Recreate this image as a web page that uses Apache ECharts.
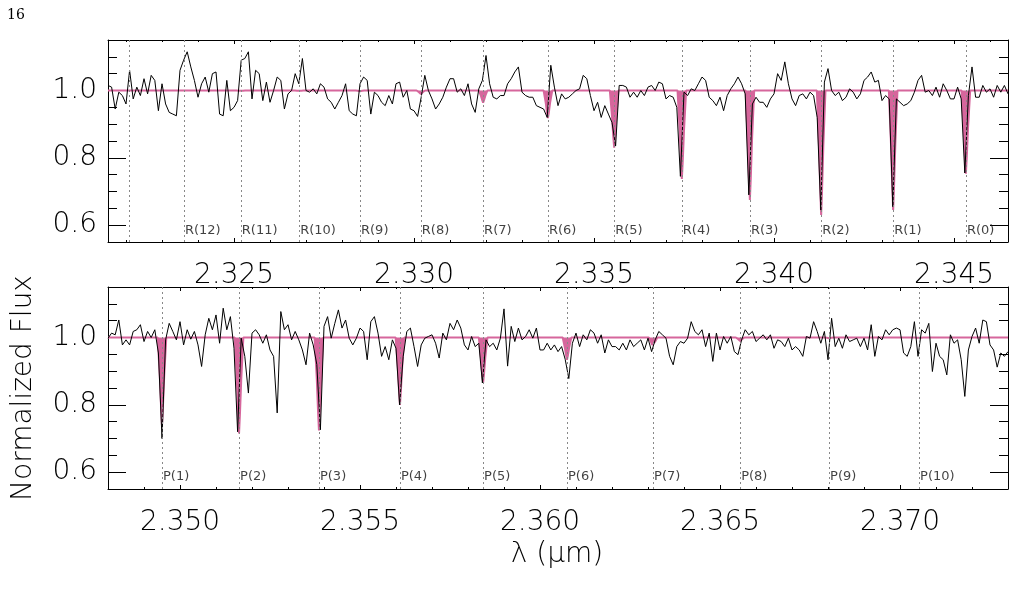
<!DOCTYPE html>
<html>
<head>
<meta charset="utf-8">
<script src="https://cdn.jsdelivr.net/npm/echarts@6/dist/echarts.min.js"></script>
<style>
  html, body { margin: 0; padding: 0; background: #fff; }
  #chart { width: 1016px; height: 604px; }
</style>
</head>
<body>
<div id="chart"></div>
<script>
// sampling of the spectrum (micron)
const topStart = 2.3215;
const botStart = 2.348;
const lamStep = 0.0001;

// observed normalized flux, upper panel (R branch)
const topFlux = [
  1.015, 1.01, 0.945, 0.995, 0.985, 0.96, 1.06, 0.975, 1.01, 0.985,
  1.035, 0.99, 1.045, 1.03, 0.94, 1.02, 0.96, 0.935, 0.93, 0.925,
  1.06, 1.09, 1.115, 1.07, 1.03, 0.98, 1.02, 1.04, 0.995, 1.05,
  1.055, 0.93, 0.925, 1.03, 0.94, 0.95, 0.97, 1.09, 1.095, 1.115,
  0.975, 1.06, 1.05, 0.97, 1.025, 0.965, 1.0, 1.04, 1.03, 0.945,
  0.99, 1.0, 1.05, 1.02, 1.095, 1.0, 0.995, 1.005, 0.99, 1.02,
  1.01, 0.975, 0.965, 0.945, 0.965, 0.985, 1.02, 0.94, 0.93, 0.925,
  1.02, 1.04, 1.03, 0.93, 0.995, 0.985, 0.965, 0.955, 0.985, 0.96,
  1.02, 1.025, 0.98, 1.0, 0.945, 0.94, 0.923, 0.98, 1.045, 1.0,
  0.975, 0.945, 0.96, 0.98, 1.01, 1.035, 1.035, 0.995, 1.005, 0.985,
  1.02, 0.96, 0.935, 1.005, 1.03, 1.104, 1.02, 0.98, 0.975, 0.985,
  0.985, 1.02, 1.035, 1.055, 1.07, 0.995, 0.985, 0.98, 0.98, 0.955,
  0.95, 0.945, 0.92, 1.075, 1.01, 0.955, 0.99, 0.975, 0.98, 0.99,
  1.0, 1.005, 1.045, 1.035, 0.985, 0.94, 0.965, 0.92, 0.955, 0.93,
  0.905, 0.835, 1.015, 1.015, 1.01, 0.98, 0.995, 0.98, 1.0, 0.985,
  1.01, 1.015, 1.0, 1.025, 1.02, 0.975, 0.985, 0.98, 0.95, 0.745,
  0.995, 0.985, 1.005, 1.0, 1.02, 1.04, 1.03, 0.98, 0.97, 0.955,
  0.98, 0.94, 0.985, 1.005, 1.02, 1.04, 1.02, 0.99, 0.69, 0.96,
  0.98, 0.965, 0.965, 0.95, 0.975, 0.99, 1.05, 1.03, 1.085, 1.02,
  0.975, 0.955, 0.985, 0.99, 0.975, 0.995, 0.985, 0.92, 0.645, 1.025,
  1.065, 1.0, 0.985, 0.995, 0.97, 0.98, 1.005, 0.995, 0.975, 0.99,
  1.03, 1.04, 1.055, 1.025, 1.03, 0.97, 0.985, 0.975, 0.655, 0.975,
  0.965, 0.955, 0.96, 0.97, 0.995, 1.03, 1.045, 0.995, 1.0, 0.985,
  1.01, 0.98, 1.02, 1.0, 0.975, 0.975, 1.01, 0.975, 0.755, 0.985,
  1.07, 0.98, 0.98, 1.015, 0.995, 1.005, 0.98, 1.015, 0.995, 1.015, 0.99
];

// observed normalized flux, lower panel (P branch)
const botFlux = [
  0.998, 1.013, 1.008, 1.052, 0.978, 0.993, 0.978, 1.018, 1.023, 1.038,
  0.988, 1.018, 1.0, 1.023, 0.954, 0.70, 0.993, 1.042, 1.018, 0.993,
  1.047, 0.978, 1.023, 0.995, 1.018, 0.978, 0.914, 1.008, 1.057, 1.023,
  1.067, 0.983, 1.087, 1.023, 1.062, 0.968, 0.72, 0.998, 0.944, 0.835,
  1.013, 1.023, 1.008, 0.983, 1.008, 0.963, 0.944, 0.776, 1.077, 1.023,
  1.038, 0.993, 1.018, 0.993, 0.963, 0.919, 1.013, 0.978, 0.92, 0.726,
  1.033, 1.062, 0.998, 1.042, 1.082, 1.028, 1.052, 0.998, 0.978, 0.998,
  1.028, 1.018, 0.934, 1.047, 1.062, 1.013, 0.944, 0.973, 0.934, 0.993,
  0.968, 0.80, 0.944, 1.018, 1.028, 0.973, 0.914, 0.978, 0.998, 1.003,
  1.008, 0.983, 0.939, 1.013, 0.993, 1.042, 1.023, 1.052, 1.028, 0.978,
  0.963, 1.003, 0.973, 0.983, 0.865, 0.993, 0.973, 0.983, 0.963, 0.998,
  1.085, 0.915, 1.033, 0.988, 1.028, 0.993, 1.003, 1.023, 0.998, 1.028,
  0.963, 0.963, 0.983, 0.963, 0.978, 0.958, 0.973, 0.935, 0.878, 0.983,
  1.013, 0.973, 1.008, 0.993, 1.023, 1.013, 0.983, 1.008, 0.954, 0.993,
  0.973, 0.973, 0.963, 0.983, 0.963, 0.993, 0.973, 0.983, 0.993, 0.963,
  0.998, 0.958, 0.993, 1.018, 1.008, 0.998, 0.944, 0.919, 0.973, 0.988,
  0.983, 0.998, 1.047, 1.018, 1.008, 1.023, 0.973, 1.013, 0.929, 1.013,
  0.963, 1.003, 0.983, 1.003, 0.958, 0.949, 0.993, 1.023, 1.008, 1.018,
  0.988, 0.998, 1.008, 0.993, 1.008, 0.968, 0.993, 0.988, 0.973, 0.998,
  0.963, 0.973, 0.963, 0.944, 1.003, 0.998, 1.047, 1.018, 0.983, 1.018,
  0.934, 1.057, 0.973, 0.998, 0.968, 1.008, 0.988, 0.993, 0.998, 0.973,
  0.998, 0.963, 1.038, 0.944, 1.003, 0.993, 1.023, 1.008, 1.023, 1.028,
  1.023, 0.954, 0.944, 0.973, 1.047, 0.944, 1.023, 1.013, 1.042, 0.899,
  0.983, 0.944, 0.934, 0.889, 1.008, 0.983, 0.993, 0.934, 0.825, 0.963,
  1.003, 1.028, 0.983, 1.052, 1.047, 0.978, 0.963, 0.912, 0.954, 0.944, 0.958
];

// line identifications: wavelength, label, model depth
const rLam = [2.32208, 2.32361, 2.32519, 2.32681, 2.32850, 2.33019, 2.33192,
  2.33372, 2.33556, 2.33744, 2.33933, 2.34131, 2.34331, 2.34533];
const rNames = ['', 'R(12)', 'R(11)', 'R(10)', 'R(9)', 'R(8)', 'R(7)',
  'R(6)', 'R(5)', 'R(4)', 'R(3)', 'R(2)', 'R(1)', 'R(0)'];
const rDepth = [1.0, 1.0, 0.999, 0.999, 0.998, 0.99, 0.964,
  0.918, 0.83, 0.737, 0.675, 0.63, 0.645, 0.753];

const pLam = [2.34950, 2.35164, 2.35386, 2.35611, 2.35842, 2.36075, 2.36314,
  2.36556, 2.36803, 2.37053];
const pNames = ['P(1)', 'P(2)', 'P(3)', 'P(4)', 'P(5)', 'P(6)', 'P(7)',
  'P(8)', 'P(9)', 'P(10)'];
const pDepth = [0.74, 0.715, 0.724, 0.80, 0.865, 0.934, 0.973, 0.99, 0.998, 0.999];

// model line profile (offset in micron, fraction of depth)
const profDx = [-0.00012, -0.00006, -0.000025, 0, 0.000025, 0.00006, 0.00012];
const profFrac = [0, 0.45, 0.8, 1, 0.8, 0.45, 0];

// axis ticks
const topRange = [2.3215, 2.3465];
const botRange = [2.348, 2.373];
const topMajor = [2.325, 2.330, 2.335, 2.340, 2.345];
const topMinor = [2.322, 2.323, 2.324, 2.326, 2.327, 2.328, 2.329, 2.331, 2.332, 2.333,
  2.334, 2.336, 2.337, 2.338, 2.339, 2.341, 2.342, 2.343, 2.344, 2.346];
const botMajor = [2.350, 2.355, 2.360, 2.365, 2.370];
const botMinor = [2.348, 2.349, 2.351, 2.352, 2.353, 2.354, 2.356, 2.357, 2.358, 2.359,
  2.361, 2.362, 2.363, 2.364, 2.366, 2.367, 2.368, 2.369, 2.371, 2.372, 2.373];
const yMajor = [0.6, 0.8, 1.0];
const yMinor = [0.55, 0.65, 0.7, 0.75, 0.85, 0.9, 0.95, 1.05, 1.1, 1.15];

const PINK = '#d6669c';
const FONT = 'DejaVu Sans';

const chart = echarts.init(document.getElementById('chart'), null, { renderer: 'canvas' });

function spectrum(start, flux) {
  return flux.map((f, i) => [start + i * lamStep, f]);
}

function model(range, lams, depths) {
  const pts = [[range[0], 1]];
  lams.forEach((c, k) => {
    profDx.forEach((dx, j) => {
      pts.push([c + dx, 1 - (1 - depths[k]) * profFrac[j]]);
    });
  });
  pts.push([range[1], 1]);
  return pts;
}

function xAxes(gridIndex, range, major, minor) {
  const base = {
    gridIndex, type: 'value', min: range[0], max: range[1],
    splitLine: { show: false },
    axisLine: { show: false, onZero: false }
  };
  return [
    Object.assign({}, base, {
      position: 'bottom',
      axisLine: { show: true, onZero: false, lineStyle: { color: '#000', width: 1 } },
      axisTick: { inside: true, length: 4, customValues: major, lineStyle: { color: '#000' } },
      axisLabel: {
        customValues: major, margin: 20, color: '#000',
        fontFamily: FONT, fontWeight: 200, fontSize: 28,
        formatter: v => v.toFixed(3)
      }
    }),
    Object.assign({}, base, {
      position: 'bottom',
      axisTick: { inside: true, length: 2, customValues: minor, lineStyle: { color: '#000' } },
      axisLabel: { show: false }
    }),
    Object.assign({}, base, {
      position: 'top',
      axisLine: { show: true, onZero: false, lineStyle: { color: '#000', width: 1 } },
      axisTick: { inside: true, length: 4, customValues: major, lineStyle: { color: '#000' } },
      axisLabel: { show: false }
    }),
    Object.assign({}, base, {
      position: 'top',
      axisTick: { inside: true, length: 2, customValues: minor, lineStyle: { color: '#000' } },
      axisLabel: { show: false }
    })
  ];
}

function yAxes(gridIndex) {
  const base = {
    gridIndex, type: 'value', min: 0.55, max: 1.15,
    splitLine: { show: false },
    axisLine: { show: false, onZero: false }
  };
  return [
    Object.assign({}, base, {
      position: 'left',
      axisLine: { show: true, onZero: false, lineStyle: { color: '#000', width: 1 } },
      axisTick: { inside: true, length: 18, customValues: yMajor, lineStyle: { color: '#000' } },
      axisLabel: {
        customValues: yMajor, margin: 11, color: '#000',
        fontFamily: FONT, fontWeight: 200, fontSize: 28,
        formatter: v => v.toFixed(1)
      }
    }),
    Object.assign({}, base, {
      position: 'left',
      axisTick: { inside: true, length: 9, customValues: yMinor, lineStyle: { color: '#000' } },
      axisLabel: { show: false }
    }),
    Object.assign({}, base, {
      position: 'right',
      axisLine: { show: true, onZero: false, lineStyle: { color: '#000', width: 1 } },
      axisTick: { inside: true, length: 18, customValues: yMajor, lineStyle: { color: '#000' } },
      axisLabel: { show: false }
    }),
    Object.assign({}, base, {
      position: 'right',
      axisTick: { inside: true, length: 9, customValues: yMinor, lineStyle: { color: '#000' } },
      axisLabel: { show: false }
    })
  ];
}

function panelSeries(axisIdx, start, flux, range, lams, names, depths, labelY) {
  return [
    {
      type: 'line', xAxisIndex: axisIdx, yAxisIndex: axisIdx,
      data: model(range, lams, depths), showSymbol: false, silent: true,
      lineStyle: { color: PINK, width: 2 },
      areaStyle: { color: PINK, opacity: 1, origin: 1 },
      z: 2, animation: false
    },
    {
      type: 'line', xAxisIndex: axisIdx, yAxisIndex: axisIdx,
      data: spectrum(start, flux), showSymbol: false, silent: true,
      lineStyle: { color: '#000', width: 1 },
      z: 4, animation: false,
      markLine: {
        symbol: 'none', silent: true, animation: false, precision: 6,
        label: { show: false },
        lineStyle: { color: '#888', width: 1, type: [2, 3] },
        data: lams.map(l => ({ xAxis: l }))
      }
    },
    {
      type: 'scatter', xAxisIndex: axisIdx, yAxisIndex: axisIdx,
      data: lams.map((l, k) => ({ value: [l, labelY], name: names[k] })),
      symbolSize: 0, silent: true, animation: false, z: 5,
      label: {
        show: true, position: 'right', distance: 1,
        formatter: p => p.name,
        color: '#111', fontFamily: FONT, fontSize: 13
      }
    }
  ];
}

const option = {
  backgroundColor: '#fff',
  animation: false,
  grid: [
    { left: 108, top: 40, width: 900, height: 202 },
    { left: 108, top: 287, width: 900, height: 202 }
  ],
  xAxis: [].concat(xAxes(0, topRange, topMajor, topMinor), xAxes(1, botRange, botMajor, botMinor)),
  yAxis: [].concat(yAxes(0), yAxes(1)),
  series: [].concat(
    panelSeries(0, topStart, topFlux, topRange, rLam, rNames, rDepth, 0.584),
    panelSeries(4, botStart, botFlux, botRange, pLam, pNames, pDepth, 0.587)
  ),
  graphic: [
    {
      type: 'text', left: 7, top: 8,
      style: { text: '16', font: '14px "DejaVu Serif"', fill: '#000' }
    },
    {
      type: 'text', x: 24, y: 388, rotation: Math.PI / 2,
      style: {
        text: 'Normalized Flux', font: '200 28px "DejaVu Sans"', fill: '#000',
        align: 'center', verticalAlign: 'middle'
      }
    },
    {
      type: 'text', x: 557, y: 555,
      style: {
        text: 'λ (μm)', font: '200 28px "DejaVu Sans"', fill: '#000',
        align: 'center', verticalAlign: 'middle'
      }
    }
  ]
};

chart.setOption(option);
</script>
</body>
</html>
